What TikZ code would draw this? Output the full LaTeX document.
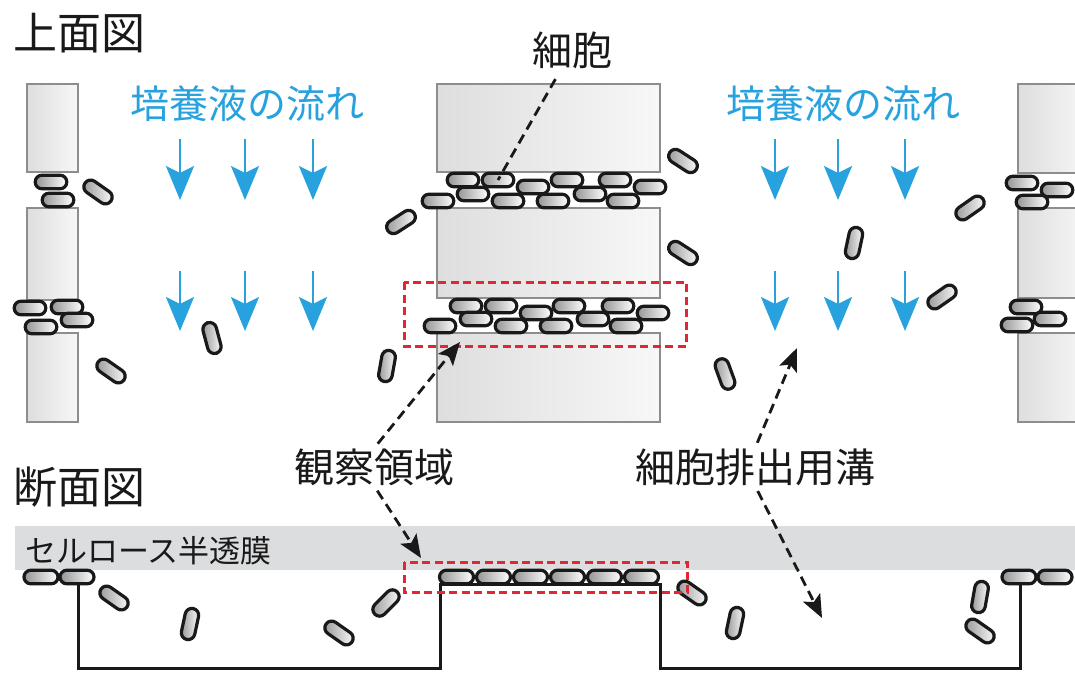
\documentclass[tikz,border=0pt]{standalone}
\usepackage{fontspec}
\newfontfamily\jp{Noto Sans CJK JP}
\usetikzlibrary{arrows.meta}

\definecolor{flowblue}{RGB}{40,162,222}
\definecolor{boxred}{RGB}{226,38,52}
\definecolor{wallline}{RGB}{140,141,143}
\definecolor{membranegray}{RGB}{219,221,223}
\definecolor{inkblack}{RGB}{25,25,25}

\tikzset{
  wallblock/.style={draw=wallline, line width=2.6pt, left color=black!13, right color=black!3},
  cellbody/.style={draw=inkblack, line width=3.2pt, left color=black!42, right color=white, rounded corners=6.8pt},
  flowarrow/.style={flowblue, line width=2.8pt, -{Stealth[length=34pt,width=28pt,inset=7pt]}},
  guide/.style={inkblack, line width=2.8pt, dash pattern=on 10pt off 6pt},
  guidearrow/.style={guide, -{Stealth[length=23pt,width=19pt,inset=5pt]}},
  redbox/.style={draw=boxred, line width=3pt, dash pattern=on 8pt off 4.5pt},
  profile/.style={draw=inkblack, line width=3pt, line join=miter},
  title/.style={font=\jp\fontsize{44}{44}\selectfont, text=inkblack, inner sep=0pt},
  flowlabel/.style={font=\jp\fontsize{39}{39}\selectfont, text=flowblue, inner sep=0pt},
  label/.style={font=\jp\fontsize{40}{40}\selectfont, text=inkblack, inner sep=0pt},
  filmlabel/.style={font=\jp\fontsize{31}{31}\selectfont, text=inkblack, inner sep=0pt}
}

% a free cell: centre x, centre y, angle
\newcommand\cellat[3]{\draw[cellbody,shift={(#1,#2)},rotate=#3] (-15.8,-6.8) rectangle (15.8,6.8);}
% a cell lying on the section surface
\newcommand\seccell[2]{\draw[cellbody,shift={(#1,#2)}] (-17,-6.8) rectangle (17,6.8);}

\begin{document}
\begin{tikzpicture}[x=1pt,y=-1pt]
\useasboundingbox (0,0) rectangle (1075,675);
\clip (0,0) rectangle (1075,675);
\fill[white] (0,0) rectangle (1075,675);

% ---------- top view ----------
\node[title] (topview) at (79,33) {上面図};

% walls
\draw[wallblock] (27,84) rectangle (78,172);
\draw[wallblock] (27,208) rectangle (78,300);
\draw[wallblock] (27,333) rectangle (78,422);
\draw[wallblock] (437,84) rectangle (660,172);
\draw[wallblock] (437,208) rectangle (660,298);
\draw[wallblock] (437,333) rectangle (660,422);
\draw[wallblock] (1018,84) rectangle (1090,173);
\draw[wallblock] (1018,208) rectangle (1090,298);
\draw[wallblock] (1018,333) rectangle (1090,422);

% medium flow
\node[flowlabel] (flowL) at (247,104) {培養液の流れ};
\node[flowlabel] (flowR) at (843,104) {培養液の流れ};
\foreach \x [count=\i] in {180,245,313,775,838,905}{
  \coordinate (fa\i) at (\x,139);
  \coordinate (fb\i) at (\x,200);
  \coordinate (fc\i) at (\x,271);
  \coordinate (fd\i) at (\x,331);
  \draw[flowarrow] (fa\i) -- (fb\i);
  \draw[flowarrow] (fc\i) -- (fd\i);
}

% cells at the left wall
\cellat{51}{182}{0}
\cellat{58}{200}{0}
\cellat{98}{192}{-35}
\cellat{30}{308}{0}
\cellat{67}{307}{0}
\cellat{77}{320}{0}
\cellat{41}{327}{0}
\cellat{111}{371}{-35}
\cellat{212}{338}{105}

% cells trapped in the upper channel
\foreach \x in {463,498,567,615}{\cellat{\x}{180}{0}}
\foreach \x in {533,650}{\cellat{\x}{187}{0}}
\foreach \x in {473,590}{\cellat{\x}{194}{0}}
\foreach \x in {438,508,553,623}{\cellat{\x}{201}{0}}

% cells trapped in the lower channel
\foreach \x in {466,501,569,618}{\cellat{\x}{306}{0}}
\foreach \x in {536,653}{\cellat{\x}{313}{0}}
\foreach \x in {476,593}{\cellat{\x}{319}{0}}
\foreach \x in {440,511,556,626}{\cellat{\x}{326}{0}}

% free cells near the centre
\cellat{401}{222}{33}
\cellat{683}{161}{-33}
\cellat{683}{253}{-33}
\cellat{387}{366}{80}

% cells at the right wall
\cellat{970}{208}{35}
\cellat{854}{243}{78}
\cellat{942}{297}{35}
\cellat{725}{374}{110}
\cellat{1022}{183}{0}
\cellat{1057}{190}{0}
\cellat{1032}{202}{0}
\cellat{1026}{307}{0}
\cellat{1050}{319}{0}
\cellat{1017}{325}{0}

% observation window (top view)
\draw[redbox] (404,282) rectangle (686,346);
\coordinate (obsTop) at (460,342);

% ---------- cross section ----------
\node[title] (sectionview) at (79,487) {断面図};

\fill[membranegray] (15,526) rectangle (1075,570);
\node[filmlabel, anchor=west] (film) at (25,551) {セルロース半透膜};

\draw[profile] (78,584) -- (78,668) -- (440,668) -- (440,584) -- (660,584)
               -- (660,668) -- (1020,668) -- (1020,584);

\foreach \x in {41,77,456.5,493.5,530.5,567.5,604.5,641.5,1019,1055}{\seccell{\x}{577}}

\cellat{114}{598}{-35}
\cellat{190}{624}{78}
\cellat{339}{633}{-35}
\cellat{386}{603}{45}
\cellat{692}{593}{-35}
\cellat{735}{623}{78}
\cellat{980}{597}{80}
\cellat{980}{631}{-35}

\draw[redbox] (404,562) rectangle (687,592);
\coordinate (obsSec) at (421,558);

% ---------- labels and pointers ----------
\node[label] (cellname) at (572,50) {細胞};
\coordinate (cellpt) at (498,180);
\draw[guide, shorten <=12pt] (cellname) -- (cellpt);

\node[label] (obsname) at (374,467) {観察領域};
\draw[guidearrow, shorten <=6pt] (obsname.north) -- (obsTop);
\draw[guidearrow, shorten <=6pt] (obsname.south) -- (obsSec);

\node[label] (groovename) at (755,467) {細胞排出用溝};
\coordinate (grooveTop) at (797,348);
\coordinate (grooveSec) at (822,618);
\draw[guidearrow, shorten <=6pt] (groovename.north) -- (grooveTop);
\draw[guidearrow, shorten <=6pt] (groovename.south) -- (grooveSec);
\end{tikzpicture}
\end{document}
